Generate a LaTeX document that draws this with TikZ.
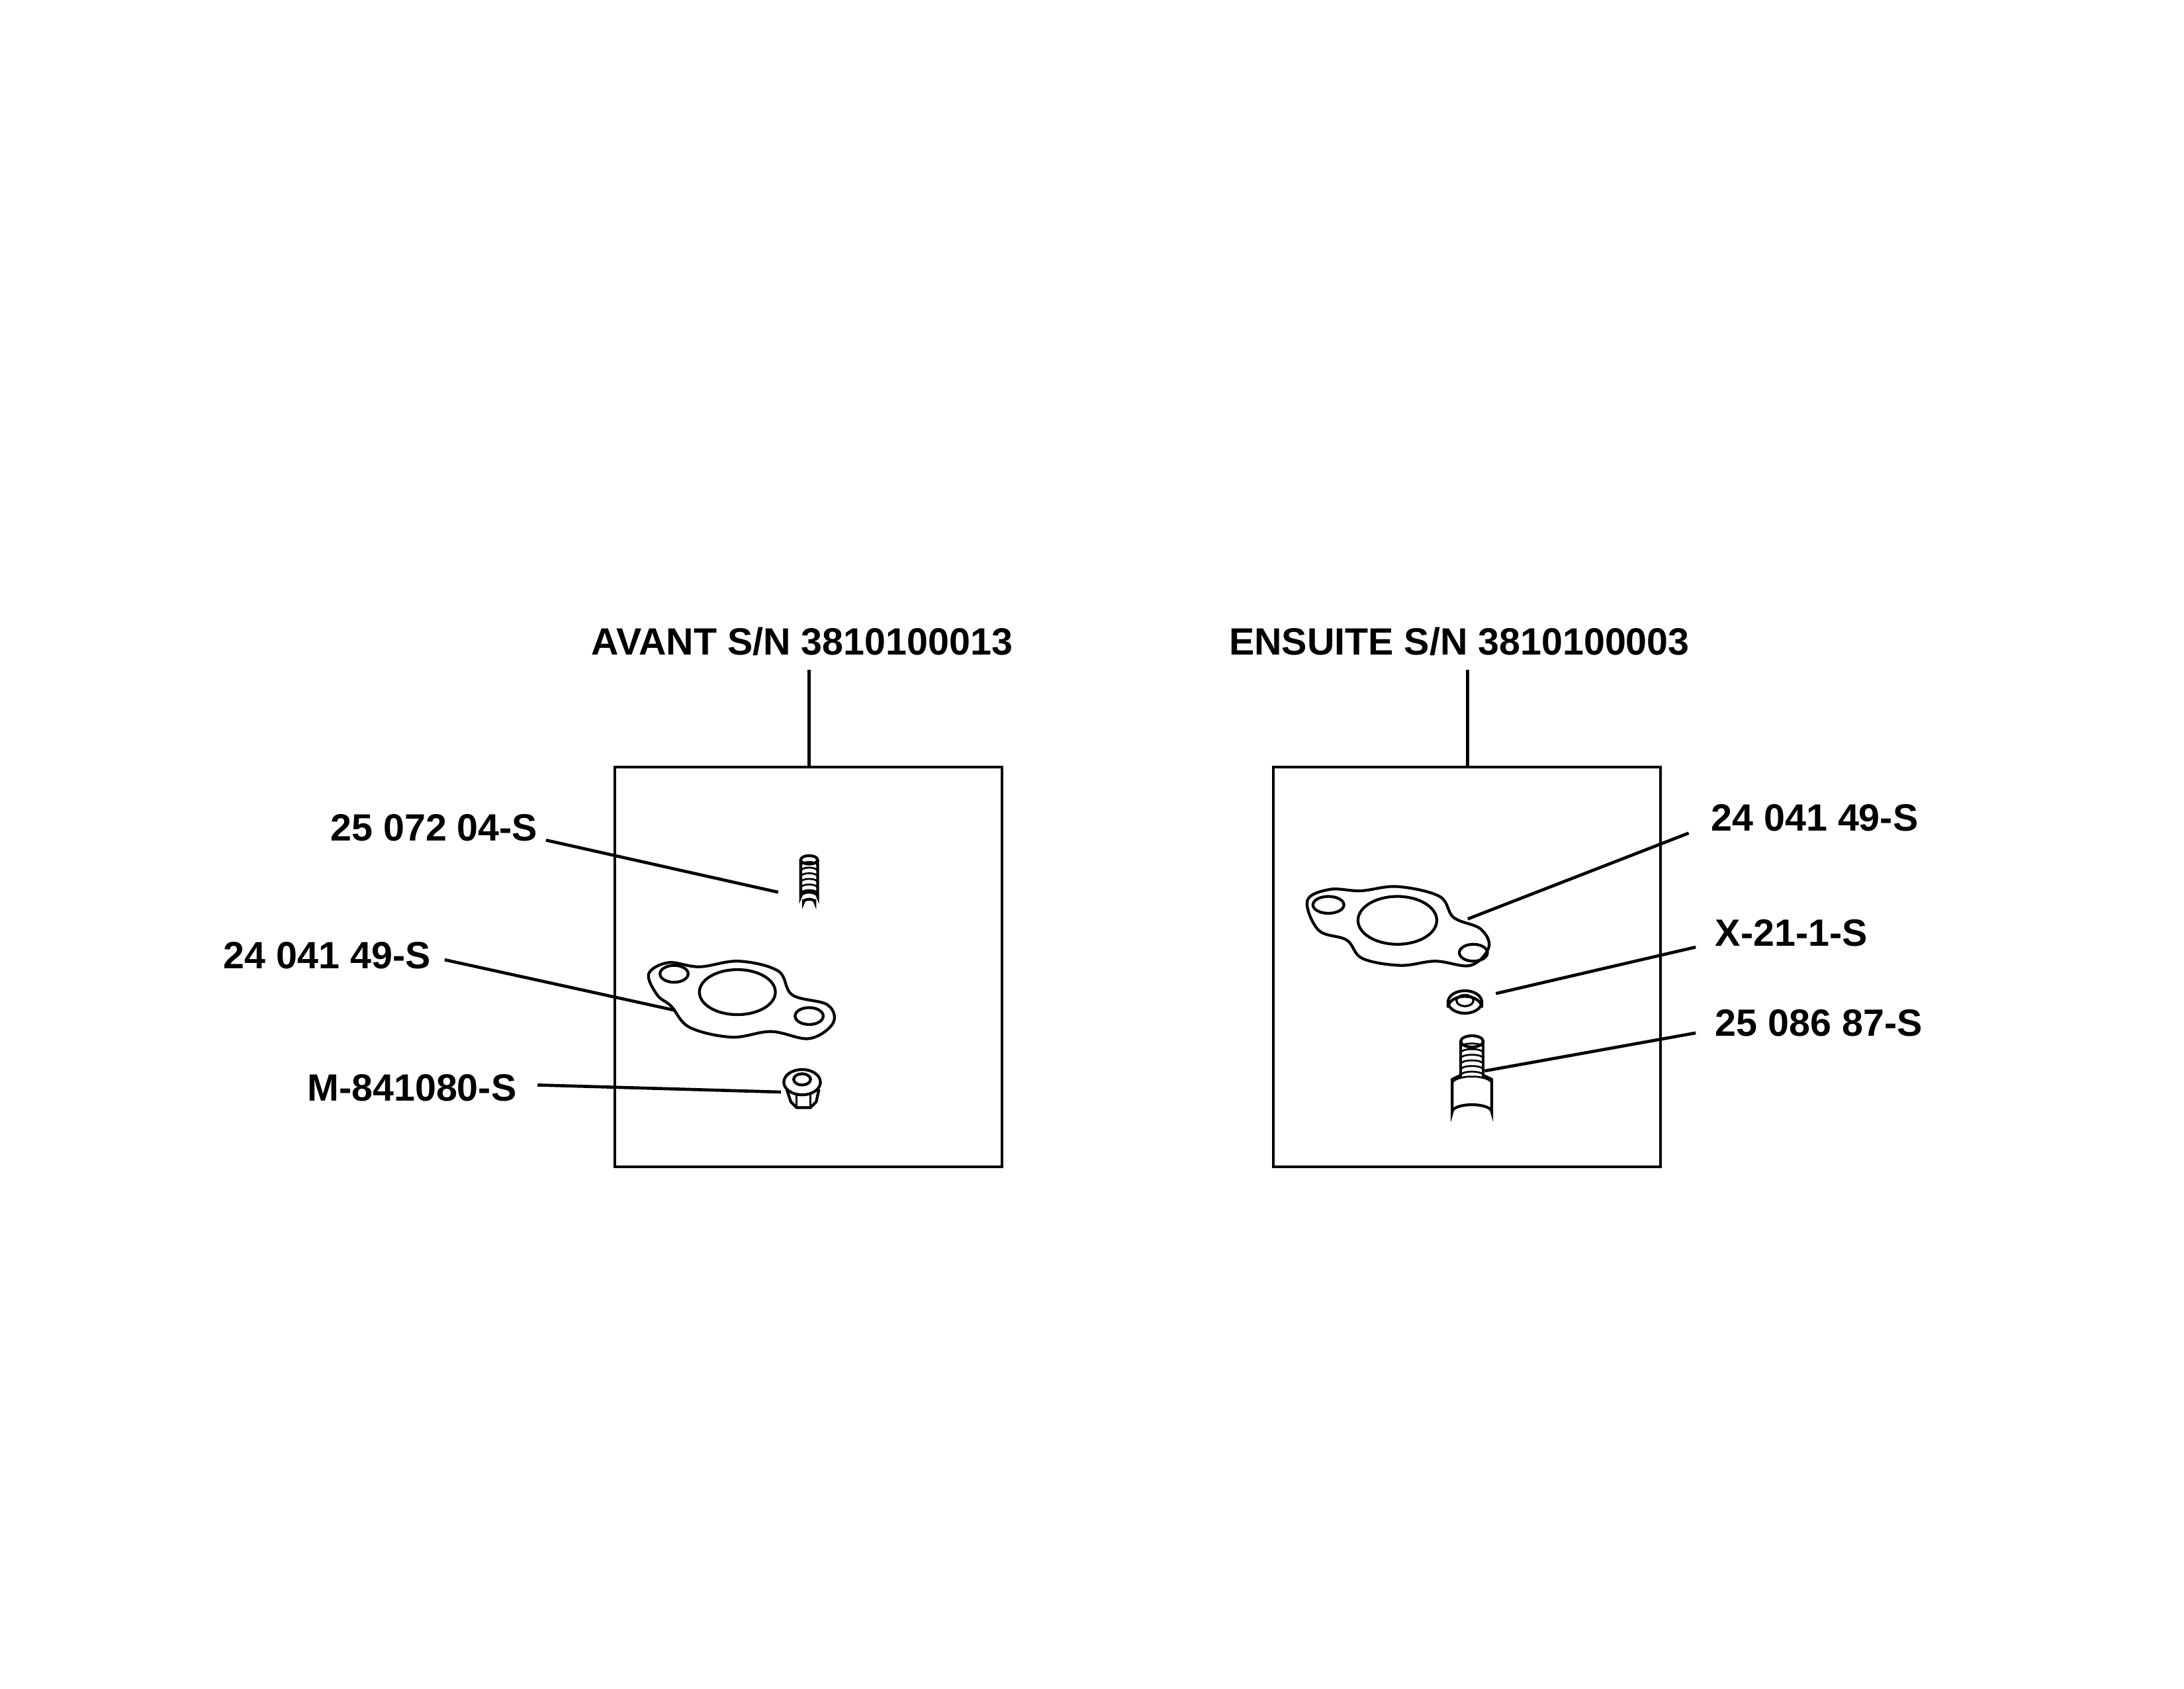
\documentclass[tikz,border=0pt]{standalone}
\usepackage{fontspec}
\setmainfont{Liberation Sans}
\begin{document}
\begin{tikzpicture}[x=1pt,y=-1pt,line width=2pt,
  lbl/.style={font=\fontsize{27}{30}\selectfont\bfseries,inner sep=0pt},
  leader/.style={line width=2.2pt},
  part/.style={line width=2pt}]
\useasboundingbox (0,0) rectangle (1552,1200);
% titles and boxes
\node[lbl] (t1) at (570,456) {AVANT S/N 3810100013};
\node[lbl] (t2) at (1037,456) {ENSUITE S/N 3810100003};
\draw[line width=1.8pt] (437,545) rectangle (712,829);
\draw[line width=1.8pt] (905,545) rectangle (1180,829);
\coordinate (b1) at (575,545); \coordinate (b2) at (1043,545);
\draw[leader] (575,476) -- (b1);
\draw[leader] (1043,476) -- (b2);
% --- left parts
% stud
\draw[part] (569,611) -- (569,637) arc (180:360:6 and 3) -- (581,611);
\draw[part] (575,611) ellipse (6 and 3);
\foreach \y in {615,619,...,635} \draw[line width=1.3pt] (569,\y) arc (180:360:6 and 2.5);
\draw[part] (571,639) -- (571,641) arc (180:360:4 and 2) -- (579,639);
% gasket left
\draw[part] plot[smooth cycle,tension=0.6] coordinates {(461,692)(475,684)(497,687)(525,683)(553,690)(563,707)(588,714)(592,727)(575,738)(548,733)(520,737)(490,730)(477,715)(467,707)};
\draw[part] (479,692) ellipse (10 and 6);
\draw[part] (524,705) ellipse (27 and 16);
\draw[part] (575,722) ellipse (10 and 6);
% nut
\draw[part] (570,769) ellipse (13 and 9);
\draw[part] (570,767) ellipse (6 and 4);
\draw[part] (559,774) -- (562,783) -- (566,787) -- (576,787) -- (580,783) -- (582,774);
\draw[line width=1.2pt] (566,777) -- (566,787) (576,777) -- (576,787);
% left labels
\node[lbl,anchor=east] (l1) at (383,588) {25 072 04-S};
\node[lbl,anchor=east] (l2) at (307,679) {24 041 49-S};
\node[lbl,anchor=east] (l3) at (368,773) {M-841080-S};
\coordinate (p1) at (553,634); \coordinate (p2) at (480,718); \coordinate (p3) at (555,776);
\draw[leader] (388,597) -- (p1);
\draw[leader] (316,682) -- (p2);
\draw[leader] (382,771) -- (p3);
% --- right parts
\draw[part] plot[smooth cycle,tension=0.6] coordinates {(929,640)(945,632)(967,633)(993,630)(1023,637)(1033,652)(1052,660)(1058,673)(1045,686)(1020,683)(995,686)(968,681)(957,668)(937,661)};
\draw[part] (944,643) ellipse (11 and 6);
\draw[part] (993,654) ellipse (28 and 17);
\draw[part] (1047,677) ellipse (10 and 6);
% washer
\draw[part] (1041,712) ellipse (12 and 8);
\draw[part] (1029,712) -- (1029,716) arc (180:360:12 and 8) -- (1053,712);
\draw[line width=1.5pt] (1041,711) ellipse (6 and 4);
% bolt
\draw[part] (1038,740) -- (1038,765) (1054,740) -- (1054,765);
\draw[part] (1046,740) ellipse (8 and 4);
\foreach \y in {744,748,...,764} \draw[line width=1.3pt] (1038,\y) arc (180:360:8 and 2.5);
\draw[part] (1038,764) -- (1032,767) -- (1032,790) arc (180:360:14 and 5) -- (1060,767) -- (1054,764);
\draw[line width=1.3pt] (1032,770) arc (180:360:14 and 5);
% right labels
\node[lbl,anchor=west] (r1) at (1215,581) {24 041 49-S};
\node[lbl,anchor=west] (r2) at (1218,663) {X-21-1-S};
\node[lbl,anchor=west] (r3) at (1218,727) {25 086 87-S};
\coordinate (q1) at (1043,653); \coordinate (q2) at (1063,706); \coordinate (q3) at (1055,761);
\draw[leader] (1200,592) -- (q1);
\draw[leader] (1205,673) -- (q2);
\draw[leader] (1205,734) -- (q3);
\end{tikzpicture}
\end{document}
